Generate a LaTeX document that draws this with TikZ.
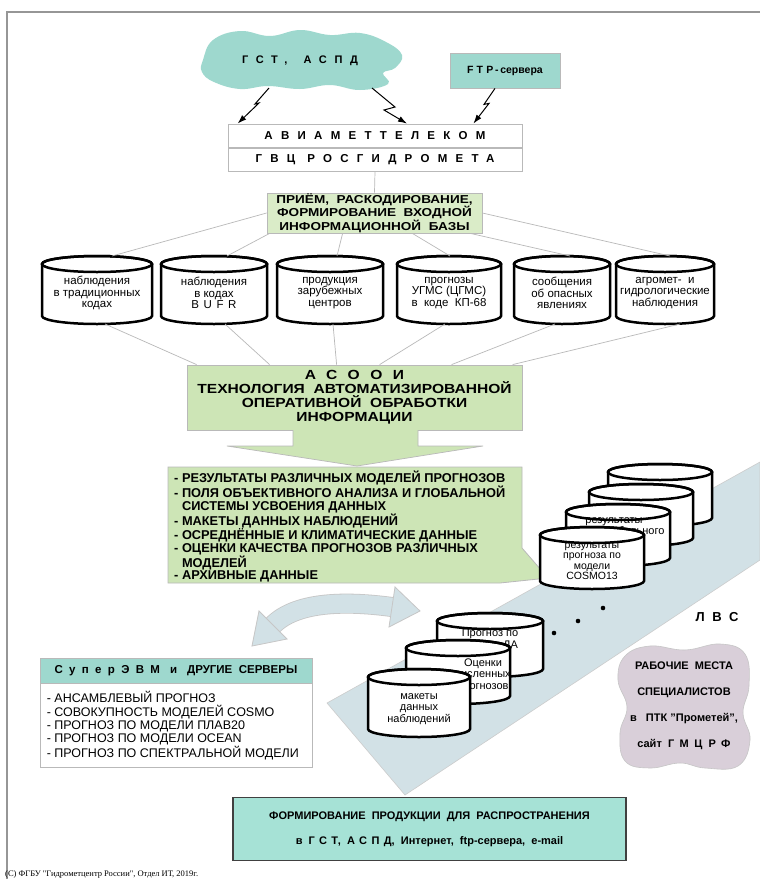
\documentclass[tikz,border=0pt]{standalone}
\usepackage{fontspec}
\setmainfont{Liberation Sans}
\newfontfamily\widefont[FakeStretch=1.18]{Liberation Sans}
\newfontfamily\footfont{Liberation Serif}
\usetikzlibrary{arrows.meta, calc}

\definecolor{aqua}{RGB}{158,216,206}
\definecolor{aquabox}{RGB}{166,226,214}
\definecolor{paleGreen}{RGB}{218,236,200}
\definecolor{midGreen}{RGB}{205,229,182}
\definecolor{bandBlue}{RGB}{210,225,230}
\definecolor{blobGray}{RGB}{217,207,217}
\definecolor{frameGray}{RGB}{150,150,150}

\newcommand\fs[2]{\fontsize{#1}{#2}\selectfont}
\newcommand\spaced[2][60]{{\addfontfeature{LetterSpace=#1}#2}}

% drum: [text style]{name}{centre x}{top y}{half width}{height}{text}
\newcommand\drum[7][drumtext]{%
  \filldraw[drumline] (#3-#5,#4) -- (#3-#5,#4+#6)
    arc[start angle=180, end angle=360, x radius=#5pt, y radius=8pt]
    -- (#3+#5,#4)
    arc[start angle=0, end angle=180, x radius=#5pt, y radius=8pt] -- cycle;
  \draw[drumline, fill=none] (#3,#4) ellipse[x radius=#5pt, y radius=8pt];
  \coordinate (#2t) at (#3,#4-8);
  \coordinate (#2b) at (#3,#4+#6+8);
  \node[#1] (#2) at (#3,#4+#6/2+3) {#7};
}

\begin{document}
\begin{tikzpicture}[x=1pt, y=-1pt,
    link/.style={draw=gray!55, line width=0.7pt},
    bolt/.style={-{Latex[length=9pt,width=6pt]}, line width=1pt, black},
    framebox/.style={draw=gray!55, line width=0.8pt, inner sep=0pt, align=center},
    drumline/.style={draw=black, line width=2.5pt, fill=white},
    drumtext/.style={align=center, font=\fs{11.5}{11.5}, inner sep=0pt},
    stacktext/.style={align=center, font=\fs{11}{11.5}, inner sep=0pt},
    listtext/.style={anchor=north west, align=left, inner sep=0pt}
]
\useasboundingbox (0,0) rectangle (760,879);
\fill[white] (0,0) rectangle (760,879);
\draw[frameGray, line width=1.2pt] (760,12) -- (7,12) -- (7,879);

% sources
\fill[aqua] plot[smooth cycle, tension=0.7] coordinates {(203,60) (213,40) (240,31)
  (270,36) (300,30) (330,35) (360,33) (386,42) (402,55) (395,68) (383,73) (388,84)
  (360,90) (330,85) (300,89) (268,86) (240,89) (214,82) (202,72)};
\node[font=\fs{11}{13}\bfseries] (gst) at (300,61)
  {\spaced[70]{ГСТ,}\hspace{16pt}\spaced[70]{АСПД}};
\node[framebox, fill=aqua, minimum width=110pt, minimum height=35pt,
  font=\fs{10.5}{12}\bfseries] (ftp) at (505,70.5) {\spaced[30]{FTP}\,-\,сервера};

\node[framebox, fill=white, minimum width=294pt, minimum height=23pt,
  font=\fs{11.5}{12}\bfseries] (avia) at (375,135.5) {\spaced[72]{АВИАМЕТТЕЛЕКОМ}};
\node[framebox, fill=white, minimum width=294pt, minimum height=23pt,
  font=\fs{11.5}{12}\bfseries] (gvc) at (375,159.5)
  {\spaced[72]{ГВЦ}\hspace{12pt}\spaced[72]{РОСГИДРОМЕТА}};

\coordinate (gst-a) at ($(gst)+(-31,27)$);
\coordinate (gst-b) at ($(gst)+(72,27)$);
\coordinate (ftp-a) at ($(ftp.south)+(-10,0)$);
\draw[bolt] (gst-a) -- ($(gst-a)+(-14,16)$) -- ($(gst-a)+(-10,15)$)
  -- ([xshift=10pt]avia.north west);
\draw[bolt] (gst-b) -- ($(gst-b)+(23,19)$) -- ($(gst-b)+(12,22)$)
  -- ([xshift=32pt]avia.north);
\draw[bolt] (ftp-a) -- ($(ftp-a)+(-11,16)$) -- ($(ftp-a)+(-6,15)$)
  -- ([xshift=-49pt]avia.north east);

% reception
\node[framebox, fill=paleGreen, minimum width=215pt, minimum height=40pt,
  font=\widefont\fs{11.5}{10.5}\bfseries] (priem) at (374.5,213)
  {ПРИЁМ,\ \ РАСКОДИРОВАНИЕ,\\ФОРМИРОВАНИЕ\ \ ВХОДНОЙ\\ИНФОРМАЦИОННОЙ\ \ БАЗЫ};
\draw[link] (gvc.south) -- (priem.north);

\drum{d1}{97}{264}{55}{52}{наблюдения\\в традиционных\\кодах}
\drum{d2}{214}{264}{53}{52}{наблюдения\\в кодах\\\spaced[40]{BUFR}}
\drum{d3}{330}{264}{53}{52}{продукция\\зарубежных\\центров}
\drum{d4}{449}{264}{52}{52}{прогнозы\\УГМС (ЦГМС)\\в\ \ коде\ \ КП-68}
\drum{d5}{562}{264}{48}{52}{сообщения\\об опасных\\явлениях}
\drum{d6}{665}{264}{49}{52}{агромет-\ \ и\\гидрологические\\наблюдения}

\draw[link] (priem.west) -- ($(d1t)+(15,0)$);
\draw[link] ([xshift=3pt]priem.south west) -- ($(d2t)+(13,0)$);
\draw[link] ([xshift=76pt]priem.south west) -- ($(d3t)+(7,0)$);
\draw[link] ([xshift=-70pt]priem.south east) -- ($(d4t)+(1,0)$);
\draw[link] ([xshift=-12pt]priem.south east) -- ($(d5t)+(8,0)$);
\draw[link] (priem.east) -- ($(d6t)+(5,0)$);

% processing
\node[framebox, fill=midGreen, minimum width=335pt, minimum height=65pt,
  font=\widefont\fs{13.2}{14}\bfseries] (asooi) at (354.5,397.5)
  {\spaced[80]{АСООИ}\\ТЕХНОЛОГИЯ\ \ АВТОМАТИЗИРОВАННОЙ\\ОПЕРАТИВНОЙ\ \ ОБРАБОТКИ\\ИНФОРМАЦИИ};
\draw[link] ($(d1b)+(8,0)$) -- ($(asooi.north west)+(10,0)$);
\draw[link] ($(d2b)+(11,0)$) -- ($(asooi.north west)+(83,0)$);
\draw[link] ($(d3b)+(3,0)$) -- ($(asooi.north west)+(150,0)$);
\draw[link] ($(d4b)+(-4,0)$) -- ($(asooi.north west)+(193,0)$);
\draw[link] ($(d5b)+(-7,0)$) -- ($(asooi.north west)+(265,0)$);
\draw[link] ($(d6b)+(15,0)$) -- ($(asooi.north west)+(326,0)$);

\fill[midGreen] (293,429.5) -- (293,446) -- (227,446) -- (357,466) -- (483,446)
  -- (418,446) -- (418,429.5) -- cycle;
\draw[link] (293,430) -- (293,446) -- (227,446) -- (357,466) -- (483,446)
  -- (418,446) -- (418,430);

\filldraw[fill=midGreen, draw=gray!55, line width=0.8pt] (168,467) -- (522,467)
  -- (522,548) -- (548,578) -- (500,583) -- (168,583) -- cycle;
\node[listtext, font=\fs{12.8}{12.3}\bfseries] (results) at (174,471)
  {- РЕЗУЛЬТАТЫ РАЗЛИЧНЫХ МОДЕЛЕЙ ПРОГНОЗОВ\\
   - ПОЛЯ ОБЪЕКТИВНОГО АНАЛИЗА И ГЛОБАЛЬНОЙ\\
   \phantom{- }СИСТЕМЫ УСВОЕНИЯ ДАННЫХ\\
   - МАКЕТЫ ДАННЫХ НАБЛЮДЕНИЙ\\
   - ОСРЕДНЁННЫЕ И КЛИМАТИЧЕСКИЕ ДАННЫЕ\\
   - ОЦЕНКИ КАЧЕСТВА ПРОГНОЗОВ РАЗЛИЧНЫХ\\
   \phantom{- }МОДЕЛЕЙ\\
   - АРХИВНЫЕ ДАННЫЕ};

% storage band
\filldraw[fill=bandBlue, draw=gray!40, line width=0.6pt]
  (327,703) -- (760,462) -- (760,560) -- (405,795) -- cycle;

% exchange arrow
\draw[line width=20pt, gray!45] (273,625) .. controls (295,603) and (340,600) .. (392,607);
\draw[line width=18.4pt, bandBlue] (273,625) .. controls (295,603) and (340,600) .. (392,607);
\filldraw[fill=bandBlue, draw=gray!45, line width=0.8pt] (287,639) -- (252,646) -- (259,611) -- cycle;
\filldraw[fill=bandBlue, draw=gray!45, line width=0.8pt] (389,627) -- (420,611) -- (395,587) -- cycle;

% upper stack
\drum[stacktext]{u4}{660}{472}{52}{46}{}
\drum[stacktext]{u3}{641}{492}{52}{46}{}
\drum[stacktext, xshift=-4pt, yshift=12pt]{u2}{618}{512}{52}{46}
  {результаты\\\hspace*{38pt}глобального}
\drum[stacktext, font=\fs{10.5}{10.5}]{u1}{592}{535}{52}{46}
  {результаты\\прогноза по\\модели\\COSMO13}

% lower stack
\drum[stacktext, yshift=8pt]{l3}{490}{621}{53}{48}{Прогноз по\\модели ДА}
\drum[stacktext, xshift=25pt]{l2}{458}{648}{52}{48}{Оценки\\численных\\прогнозов}
\drum[stacktext, yshift=-3pt]{l1}{419}{677}{51}{52}{макеты\\данных\\наблюдений}

\foreach \p in {(554,633), (578,621), (603,608)}
  \fill[black] \p circle[radius=2.3pt];

% workplaces
\node[font=\fs{13}{13}\bfseries] (lvs) at (717,617) {\spaced[60]{ЛВС}};
\filldraw[fill=blobGray, draw=gray!45, line width=0.6pt] plot[smooth cycle, tension=0.7]
  coordinates {(625,656) (650,646) (685,650) (720,644) (745,654) (749,686) (743,713)
  (750,740) (738,766) (705,768) (680,763) (650,768) (625,761) (620,733) (627,707) (618,680)};
\node[align=center, font=\fs{11}{26}\bfseries] (work) at (684,706)
  {РАБОЧИЕ\ \ МЕСТА\\СПЕЦИАЛИСТОВ\\в\ \ \ ПТК "Прометей",\\
   сайт\ \ \spaced[50]{ГМЦ}\ \ \spaced[50]{РФ}};

% supercomputers
\node[framebox, fill=aqua, minimum width=272pt, minimum height=25pt,
  font=\fs{11.5}{12}\bfseries] (superhead) at (176,670.5)
  {\spaced[55]{СуперЭВМ}\hspace{10pt}и\hspace{10pt}ДРУГИЕ\ \ СЕРВЕРЫ};
\node[framebox, fill=white, minimum width=272pt, minimum height=84pt, anchor=north]
  (superbody) at (superhead.south) {};
\node[listtext, font=\fs{12.5}{13.3}] (superlist) at ($(superbody.north west)+(7,8)$)
  {- АНСАМБЛЕВЫЙ ПРОГНОЗ\\
   - СОВОКУПНОСТЬ МОДЕЛЕЙ COSMO\\
   - ПРОГНОЗ ПО МОДЕЛИ ПЛАВ20\\
   - ПРОГНОЗ ПО МОДЕЛИ OCEAN\\
   - ПРОГНОЗ ПО СПЕКТРАЛЬНОЙ МОДЕЛИ};

% distribution
\node[framebox, draw=black!75, line width=1.6pt, fill=aquabox, minimum width=393pt,
  minimum height=63pt, font=\fs{11}{25}\bfseries] (distrib) at (429.5,829)
  {ФОРМИРОВАНИЕ\ \ ПРОДУКЦИИ\ \ ДЛЯ\ \ РАСПРОСТРАНЕНИЯ\\
   в\ \ \spaced[40]{ГСТ},\ \ \spaced[40]{АСПД},\ \ Интернет,\ \ ftp-сервера,\ \ e-mail};

\node[anchor=base west, inner sep=0pt, font=\footfont\fs{8.5}{10}] (copyright) at (5,876)
  {(С) ФГБУ "Гидрометцентр России", Отдел ИТ, 2019г.};
\end{tikzpicture}
\end{document}
